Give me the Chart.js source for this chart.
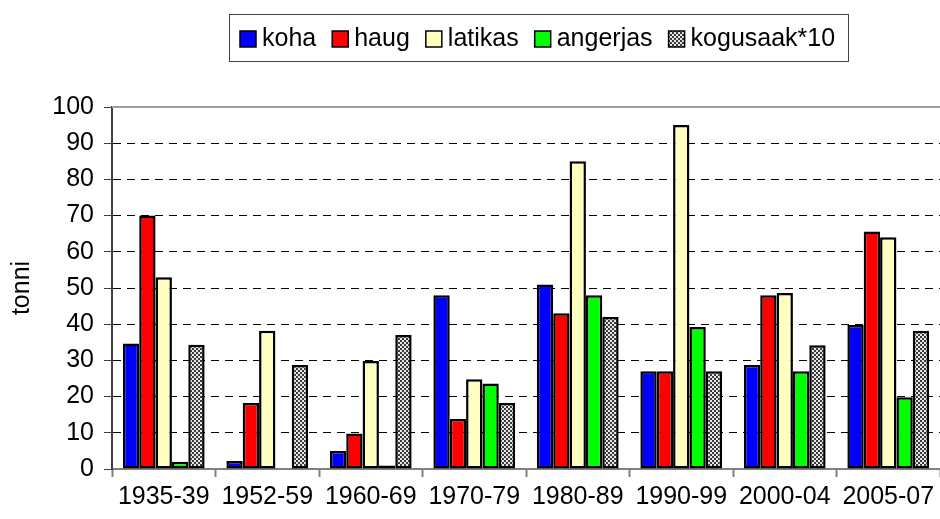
<!DOCTYPE html>
<html>
<head>
<meta charset="utf-8">
<script src="https://cdn.jsdelivr.net/npm/chart.js@4.4.0/dist/chart.umd.min.js"></script>
<style>
  html, body { margin: 0; padding: 0; background: #fff; overflow: hidden; }
</style>
</head>
<body>
<canvas id="myChart" width="940" height="519"></canvas>
<script>
const periods = ["1935-39", "1952-59", "1960-69", "1970-79", "1980-89", "1990-99", "2000-04", "2005-07"];
const koha = [34.7, 2.2, 5, 48, 51, 27, 28.7, 39.8];
const haug = [70, 18.2, 9.8, 13.8, 43, 27, 48, 65.6];
const latikas = [53, 38.2, 29.8, 24.8, 85, 95, 48.6, 64];
const angerjas = [2, null, 1, 23.6, 48, 39.2, 27, 19.8];
const kogusaak = [34.3, 28.7, 37, 18.2, 42, 27, 34.2, 38.2];
const yTicks = [0, 10, 20, 30, 40, 50, 60, 70, 80, 90, 100];

const FONT = "'Liberation Sans', Arial, sans-serif";

// checkered grey fill like the old Excel pattern
function makePattern() {
  const c = document.createElement("canvas");
  c.width = 4;
  c.height = 4;
  const g = c.getContext("2d");
  g.fillStyle = "#e6e6e6";
  g.fillRect(0, 0, 4, 4);
  g.fillStyle = "#3a3a3a";
  g.fillRect(0, 0, 2, 2);
  g.fillRect(2, 2, 2, 2);
  return g.createPattern(c, "repeat");
}
const ctx = document.querySelector("#myChart").getContext("2d");
const grey = makePattern();

const series = [
  { label: "koha", data: koha, color: "#0000ff" },
  { label: "haug", data: haug, color: "#ff0000" },
  { label: "latikas", data: latikas, color: "#ffffc0" },
  { label: "angerjas", data: angerjas, color: "#00ff00" },
  { label: "kogusaak*10", data: kogusaak, color: grey },
];

const boxLegend = {
  id: "boxLegend",
  afterDraw(chart) {
    const c = chart.ctx;
    c.save();
    c.strokeStyle = "#444";
    c.lineWidth = 1;
    c.strokeRect(229.5, 14.5, 619, 47);
    c.font = "25px " + FONT;
    c.textBaseline = "middle";
    let x = 240;
    series.forEach((s) => {
      c.fillStyle = s.color;
      c.fillRect(x, 31, 16, 16);
      c.strokeStyle = "#000";
      c.lineWidth = 1.5;
      c.strokeRect(x, 31, 16, 16);
      c.fillStyle = "#000";
      c.fillText(s.label, x + 22, 39);
      x += 22 + c.measureText(s.label).width + 16;
    });
    c.restore();
  },
};

const frame = {
  id: "frame",
  afterDatasetsDraw(chart) {
    const a = chart.chartArea;
    const c = chart.ctx;
    c.save();
    c.strokeStyle = "#a0a0a0";
    c.lineWidth = 2;
    c.beginPath();
    c.moveTo(a.left, a.top);
    c.lineTo(a.right, a.top);
    c.stroke();
    c.restore();
  },
};

new Chart(ctx, {
  type: "bar",
  data: {
    labels: periods,
    datasets: series.map((s) => ({
      label: s.label,
      data: s.data,
      backgroundColor: s.color,
      borderColor: "#000",
      borderWidth: 2.5,
      borderSkipped: false,
      categoryPercentage: 0.79,
      barPercentage: 1,
    })),
  },
  options: {
    responsive: false,
    animation: false,
    layout: { padding: { top: 107, left: 0, right: 0, bottom: 0 } },
    plugins: {
      legend: { display: false },
      tooltip: { enabled: false },
    },
    scales: {
      x: {
        afterFit: (scale) => { scale.height = 50; },
        grid: {
          offset: true,
          drawOnChartArea: false,
          drawTicks: true,
          tickLength: 8,
          tickColor: "#808080",
          tickWidth: 2,
        },
        border: { color: "#808080", width: 2 },
        ticks: { color: "#000", font: { family: FONT, size: 25 }, padding: 5, maxRotation: 0 },
      },
      y: {
        min: 0,
        max: 100,
        afterFit: (scale) => { scale.width = 112; },
        afterBuildTicks: (scale) => { scale.ticks = yTicks.map((v) => ({ value: v })); },
        grid: {
          color: (c) => (c.tick && (c.tick.value === 0 || c.tick.value === 100) ? "rgba(0,0,0,0)" : "#000"),
          lineWidth: 1,
          tickLength: 8,
          tickColor: "#404040",
          tickBorderDash: [],
        },
        border: { color: "#404040", width: 2, dash: [8, 6] },
        ticks: { color: "#000", font: { family: FONT, size: 25 }, padding: 10 },
        title: {
          display: true,
          text: "tonni",
          color: "#000",
          font: { family: FONT, size: 25 },
          padding: { top: 7, bottom: 0 },
        },
      },
    },
  },
  plugins: [frame, boxLegend],
});
</script>
</body>
</html>
